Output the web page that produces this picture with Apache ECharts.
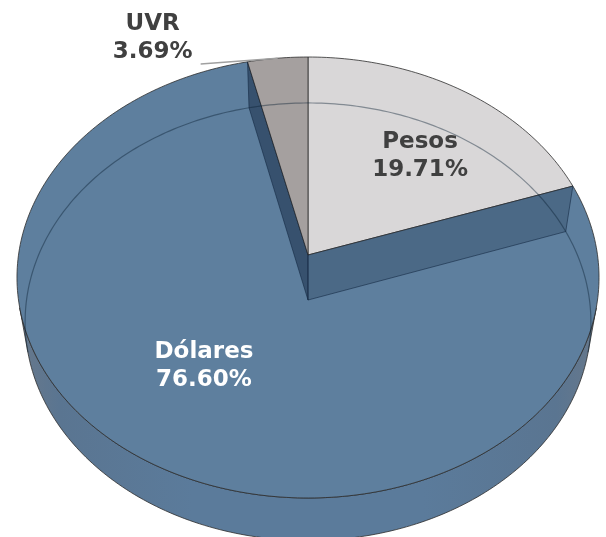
<!DOCTYPE html>
<html>
<head>
<meta charset="utf-8">
<script src="https://cdn.jsdelivr.net/npm/echarts@6/dist/echarts.min.js"></script>
<style>
  html, body { margin: 0; padding: 0; background: #ffffff; }
  #chart { width: 606px; height: 537px; }
</style>
</head>
<body>
<div id="chart"></div>
<script>
// ---- data ----
const categories = ['Pesos', 'Dólares', 'UVR'];
const shares = [19.71, 76.60, 3.69];
const shareLabels = ['19.71%', '76.60%', '3.69%'];

// ---- style ----
const topColors = ['#d9d7d8', '#5e7f9e', '#a5a09f'];
const labelColors = ['#404040', '#ffffff', '#404040'];
// label placement in pie space: radius factor and angular offset from the slice mid-angle
const labelLayout = [
  { r: 0.625, dAng: 5.0, outside: false },
  { r: 0.592, dAng: 6.4, outside: false },
  { r: 1.258, dAng: -21.7, outside: true }
];

// perspective camera of the 3D pie
const G = { cx: 308, cy: 255, D: 6.44, sinA: 0.7537, f: 1864.4, H: 0.2434 };
G.cosA = Math.sqrt(1 - G.sinA * G.sinA);

function proj(X, Y, Z) {
  const yc = Y * G.sinA + Z * G.cosA;
  const zc = Y * G.cosA - Z * G.sinA;
  const s = G.f / (G.D + zc);
  return [G.cx + X * s, G.cy - yc * s];
}
function rim(deg, z, r) {
  r = r === undefined ? 1 : r;
  const t = deg * Math.PI / 180;
  return proj(r * Math.sin(t), r * Math.cos(t), z);
}
function arc(a, b, z) {
  const pts = [];
  const n = Math.max(2, Math.ceil(Math.abs(b - a)));
  for (let i = 0; i <= n; i++) pts.push(rim(a + (b - a) * i / n, z));
  return pts;
}

const total = shares.reduce((s, v) => s + v, 0);
const cum = [];
shares.reduce((s, v, i) => { cum[i] = s; return s + v; }, 0);

// visible range of the outer cylinder wall
const visA = Math.acos(-1 / (G.D * G.cosA)) * 180 / Math.PI;
const visB = 360 - visA;

const wallGradient = new echarts.graphic.LinearGradient(0, 0, 1, 0, [
  { offset: 0, color: '#67788b' },
  { offset: 0.07, color: '#5a7591' },
  { offset: 0.3, color: '#5b7b9b' },
  { offset: 0.7, color: '#5b7b9b' },
  { offset: 0.93, color: '#5a7591' },
  { offset: 1, color: '#67788b' }
]);

const edgeStroke = 'rgba(45,45,45,0.8)';
const hiddenStroke = 'rgba(10,30,50,0.42)';

function renderItem(params, api) {
  const i = params.dataIndex;
  const v = api.value(0);
  const a = cum[i] / total * 360;
  const b = (cum[i] + v) / total * 360;
  const H = G.H;
  const cTop = proj(0, 0, 0);
  const cBot = proj(0, 0, -H);
  const children = [];

  // top face
  children.push({
    type: 'polygon', z2: 2,
    shape: { points: [cTop].concat(arc(a, b, 0)) },
    style: { fill: topColors[i], stroke: edgeStroke, lineWidth: 1 }
  });

  // front outer wall
  const lo = Math.max(a, visA), hi = Math.min(b, visB);
  if (lo < hi) {
    children.push({
      type: 'polygon', z2: 1,
      shape: { points: arc(lo, hi, 0).concat(arc(hi, lo, -H)) },
      style: { fill: wallGradient, stroke: edgeStroke, lineWidth: 1 }
    });
  }

  // hidden bottom rim (seen through the translucent top)
  const hiddenRanges = [];
  if (a < Math.min(b, visA)) hiddenRanges.push([a, Math.min(b, visA)]);
  if (Math.max(a, visB) < b) hiddenRanges.push([Math.max(a, visB), b]);
  hiddenRanges.forEach(function (rg) {
    children.push({
      type: 'polyline', z2: 4,
      shape: { points: arc(rg[0], rg[1], -H) },
      style: { fill: null, stroke: hiddenStroke, lineWidth: 1.2 }
    });
  });

  // radial walls seen through the translucent top
  const faces = [];
  const ra = a * Math.PI / 180, rb = b * Math.PI / 180;
  if (Math.sin(ra) < -1e-6) faces.push({ ang: a, nx: Math.abs(Math.cos(ra)) });
  if (Math.sin(rb) > 1e-6) faces.push({ ang: b, nx: Math.abs(Math.cos(rb)) });
  faces.forEach(function (fc) {
    const pT = rim(fc.ang, 0), pB = rim(fc.ang, -H);
    children.push({
      type: 'polygon', z2: 3,
      shape: { points: [cTop, pT, pB, cBot] },
      style: { fill: 'rgba(15,35,62,' + (0.12 + 0.38 * fc.nx).toFixed(3) + ')', stroke: null }
    });
    children.push({
      type: 'polyline', z2: 4,
      shape: { points: [pT, pB, cBot, cTop] },
      style: { fill: null, stroke: 'rgba(15,35,60,0.55)', lineWidth: 1 }
    });
  });

  // label
  const mid = (a + b) / 2;
  const L = labelLayout[i];
  const lp = rim(mid + L.dAng, 0, L.r);
  if (L.outside) {
    const target = rim(mid, 0, 1);
    children.push({
      type: 'polyline', z2: 5,
      shape: { points: [[lp[0] + 48, lp[1] + 26], target] },
      style: { fill: null, stroke: '#a0a0a0', lineWidth: 1.5 }
    });
  }
  children.push({
    type: 'text', z2: 6,
    style: {
      text: categories[i] + '\n' + shareLabels[i],
      x: lp[0], y: lp[1],
      align: 'center', verticalAlign: 'middle',
      font: 'bold 23px "DejaVu Sans", Verdana, sans-serif',
      lineHeight: 28,
      fill: labelColors[i]
    }
  });

  return { type: 'group', children: children };
}

const chart = echarts.init(document.getElementById('chart'), null, { renderer: 'canvas' });
chart.setOption({
  animation: false,
  backgroundColor: '#ffffff',
  series: [{
    type: 'custom',
    coordinateSystem: 'none',
    renderItem: renderItem,
    data: shares.map(function (v, i) { return { name: categories[i], value: [v] }; })
  }]
});
</script>
</body>
</html>
